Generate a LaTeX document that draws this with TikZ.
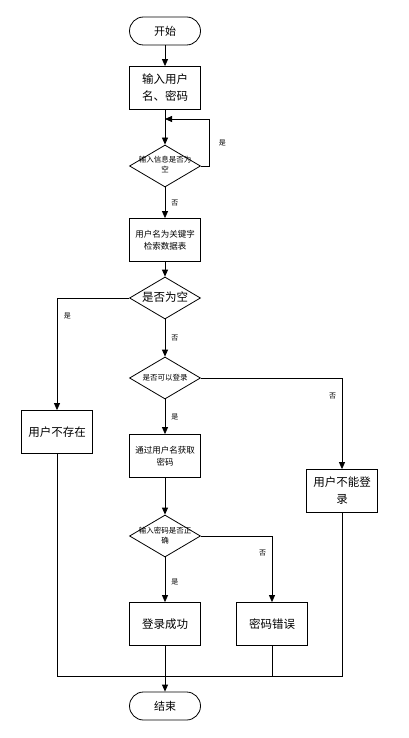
\documentclass[tikz,border=0pt]{standalone}
\usepackage{fontspec}
\newfontfamily\cjk{Noto Sans CJK SC}
\usetikzlibrary{arrows.meta,shapes.geometric}
% text inside a diamond may run past its edges
\newcommand{\dtext}[1]{\makebox[0pt]{\begin{tabular}{@{}c@{}}#1\end{tabular}}}

\begin{document}
\begin{tikzpicture}[x=1pt, y=-1pt,
  flow/.style={-{Triangle[length=7pt,width=6pt]}, line width=0.8pt},
  plain/.style={line width=0.8pt},
  terminal/.style={draw, line width=0.8pt, rectangle, rounded corners=14pt, minimum width=71pt, minimum height=28pt, font=\cjk\fontsize{11}{15}\selectfont},
  state/.style={draw, line width=0.8pt, rectangle, minimum width=71pt, minimum height=43pt, align=center, inner sep=1pt},
  bigtxt/.style={font=\cjk\fontsize{11.5}{17}\selectfont},
  smalltxt/.style={font=\cjk\fontsize{8.5}{12}\selectfont},
  decision/.style={draw, line width=0.8pt, diamond, minimum width=71pt, minimum height=42pt, inner sep=0pt},
  dsmall/.style={font=\cjk\fontsize{7.5}{10}\selectfont},
  elbl/.style={font=\cjk\fontsize{7}{8}\selectfont, inner sep=1pt}
]
  \useasboundingbox (0,0) rectangle (408,738);

  % --- main column ---
  \node[terminal] (start) at (165,31) {开始};
  \node[state, bigtxt] (input) at (165,88) {输入用户\\名、密码};
  \node[decision, dsmall] (chkempty) at (165,166) {\dtext{输入信息是否为\\空}};
  \node[state, smalltxt] (query) at (165,240) {用户名为关键字\\检索数据表};
  \node[decision, bigtxt] (isnull) at (165,298) {\dtext{是否为空}};
  \node[decision, dsmall] (canlogin) at (165,378) {\dtext{是否可以登录}};
  \node[state, smalltxt] (getpwd) at (165,456) {通过用户名获取\\密码};
  \node[decision, dsmall] (chkpwd) at (165,536) {\dtext{输入密码是否正\\确}};
  \node[state, bigtxt] (success) at (165,624) {登录成功};
  \node[terminal] (finish) at (165,706) {结束};

  % --- side boxes ---
  \node[state, bigtxt] (nouser) at (57,432) {用户不存在};
  \node[state, bigtxt] (cannot) at (342,491) {用户不能登\\录};
  \node[state, bigtxt] (pwderr) at (272,624) {密码错误};

  \coordinate (loopin) at (165,119);
  \coordinate (loopr) at (209,119);
  \coordinate (merge) at (165,676);

  % --- connections ---
  \draw[flow] (start) -- (input);
  \draw[flow] (input) -- (chkempty);
  \draw[flow] (chkempty.east) -| node[elbl, pos=0.75, right=8.5pt] {是} (loopr) -- (loopin);
  \draw[flow] (chkempty) -- node[elbl, right=5pt] {否} (query);
  \draw[flow] (query) -- (isnull);
  \draw[flow] (isnull.west) -| node[elbl, pos=0.58, right=5.5pt] {是} (nouser.north);
  \draw[flow] (isnull) -- node[elbl, right=5pt] {否} (canlogin);
  \draw[flow] (canlogin.east) -| node[elbl, pos=0.6, left=4.5pt] {否} (cannot.north);
  \draw[flow] (canlogin) -- node[elbl, right=5pt] {是} (getpwd);
  \draw[flow] (getpwd) -- (chkpwd);
  \draw[flow] (chkpwd.east) -| node[elbl, pos=0.63, left=4.5pt] {否} (pwderr.north);
  \draw[flow] (chkpwd) -- node[elbl, right=5pt, pos=0.55] {是} (success);

  % --- merge into end ---
  \draw[plain] (nouser.south) |- (merge);
  \draw[plain] (cannot.south) |- (merge);
  \draw[plain] (pwderr.south) -- (pwderr.south |- merge);
  \draw[flow] (success) -- (finish);
\end{tikzpicture}
\end{document}
